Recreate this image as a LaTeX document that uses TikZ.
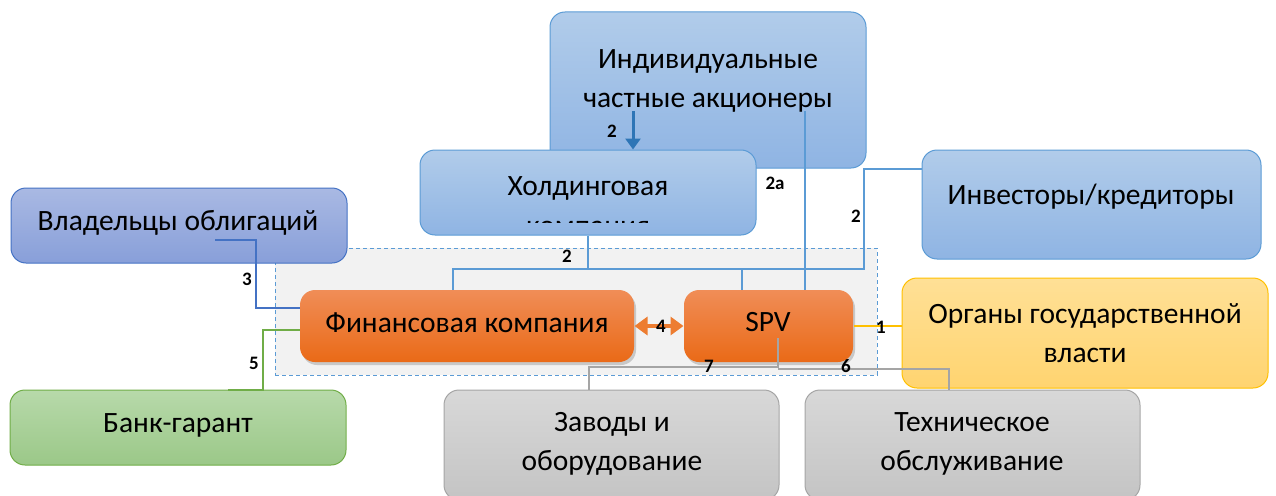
\documentclass[tikz,border=0pt]{standalone}
\usepackage{fontspec}
\setmainfont{Carlito}
\usetikzlibrary{arrows.meta,shadows}
\definecolor{bluetop}{HTML}{B1CCEA}
\definecolor{bluebot}{HTML}{8FB4E3}
\definecolor{bluebd}{HTML}{5B9BD5}
\definecolor{bondtop}{HTML}{A9B9E3}
\definecolor{bondbot}{HTML}{889FD9}
\definecolor{bondbd}{HTML}{4472C4}
\definecolor{greentop}{HTML}{B7D9AA}
\definecolor{greenbot}{HTML}{9BC888}
\definecolor{greenbd}{HTML}{70AD47}
\definecolor{yeltop}{HTML}{FFE096}
\definecolor{yelbot}{HTML}{FFD470}
\definecolor{yelbd}{HTML}{FFC000}
\definecolor{graytop}{HTML}{D8D8D8}
\definecolor{graybot}{HTML}{C4C4C4}
\definecolor{graybd}{HTML}{A5A5A5}
\definecolor{orangetop}{HTML}{F08D57}
\definecolor{orangebot}{HTML}{EA6A17}
\definecolor{orangeln}{HTML}{ED7D31}
\definecolor{areagray}{HTML}{F2F2F2}
\definecolor{darkblue}{HTML}{2E75B6}
\begin{document}
\begin{tikzpicture}[x=1pt,y=-1pt,
  box/.style={rounded corners=15pt, line width=1pt, inner sep=0pt},
  txt/.style={align=center, inner sep=0pt, font=\fontsize{29.5}{39.5}\selectfont},
  lbl/.style={font=\bfseries\fontsize{19}{19}\selectfont, inner sep=0pt},
  conn/.style={line width=2.8pt},
  orangebox/.style={box, draw=none, top color=orangetop, bottom color=orangebot,
    drop shadow={shadow xshift=2pt, shadow yshift=-3pt, opacity=0.25, fill=black!70}}]
\useasboundingbox (0,0) rectangle (1276,495);

% dashed area
\node[draw=bluebd, dash pattern=on 4pt off 3pt, fill=areagray, line width=1pt,
  minimum width=602pt, minimum height=127pt, inner sep=0pt] (area) at (576,311.5) {};

% boxes
\node[box, draw=bluebd, top color=bluetop, bottom color=bluebot,
  minimum width=316pt, minimum height=156pt] (ind) at (708,90) {};
\node[txt] (indt) at (708,81) {Индивидуальные\\частные акционеры};

\node[box, draw=bluebd, top color=bluetop, bottom color=bluebot,
  minimum width=336pt, minimum height=85pt] (hold) at (588,192.5) {};
\begin{scope}
  \clip (421,151) rectangle (755,222);
  \node[txt] (holdt) at (588,206) {Холдинговая\\компания};
\end{scope}

\node[box, draw=bondbd, top color=bondtop, bottom color=bondbot,
  minimum width=336pt, minimum height=75pt] (bond) at (179,225.5) {};
\node[txt] (bondt) at (178,223) {Владельцы облигаций};

\node[box, draw=bluebd, top color=bluetop, bottom color=bluebot,
  minimum width=339pt, minimum height=109pt] (inv) at (1091.5,204.5) {};
\node[txt] (invt) at (1091,197) {Инвесторы/кредиторы};

\node[box, draw=greenbd, top color=greentop, bottom color=greenbot,
  minimum width=336pt, minimum height=75pt] (bank) at (178,427.5) {};
\node[txt] (bankt) at (178,425) {Банк-гарант};

\node[box, draw=yelbd, top color=yeltop, bottom color=yelbot,
  minimum width=366pt, minimum height=110pt] (auth) at (1085,333) {};
\node[txt] (autht) at (1085,333) {Органы государственной\\власти};

\node[box, draw=graybd, top color=graytop, bottom color=graybot,
  minimum width=335pt, minimum height=110pt] (plant) at (611.5,445) {};
\node[txt] (plantt) at (612,444) {Заводы и\\оборудование};

\node[box, draw=graybd, top color=graytop, bottom color=graybot,
  minimum width=335pt, minimum height=110pt] (tech) at (972.5,445) {};
\node[txt] (techt) at (972,444) {Техническое\\обслуживание};

\node[orangebox, minimum width=334pt, minimum height=72pt] (fin) at (467,326) {};
\node[txt] (fint) at (467,323) {Финансовая компания};
\node[orangebox, minimum width=169pt, minimum height=72pt] (spv) at (768.5,326) {};
\node[txt] (spvt) at (768,322) {SPV};

% coordinates
\coordinate (a2s) at (633,111);
\coordinate (s2a) at (805,111);
\coordinate (busL) at (453,269);
\coordinate (busM) at (742,269);
\coordinate (busR) at (864,269);
\coordinate (invy) at (864,169);
\coordinate (b3) at (215,240);
\coordinate (b3c) at (256,240);
\coordinate (b3d) at (256,308);
\coordinate (g5a) at (263,330);
\coordinate (g5b) at (263,390);
\coordinate (g5c) at (228,390);
\coordinate (gs) at (778,338);
\coordinate (g7) at (589,367);
\coordinate (g6) at (949,369);

% connectors
\draw[line width=3pt, darkblue, -{Triangle[length=11pt,width=15pt]}] (a2s) -- (a2s |- hold.north);
\draw[conn, bluebd] (s2a) -- (s2a |- spv.north);
\draw[conn, bluebd] (hold.south) -- (hold.south |- busL);
\draw[conn, bluebd] (busL |- fin.north) -- (busL) -- (busR) -- (invy) -- (invy -| inv.west);
\draw[conn, bluebd] (busM) -- (busM |- spv.north);

\draw[conn, bondbd] (b3) -- (b3c) -- (b3d) -- (b3d -| fin.west);
\draw[conn, greenbd] (g5a -| fin.west) -- (g5a) -- (g5b) -- (g5c);

\draw[line width=3.2pt, orangeln, {Triangle[length=13pt,width=18pt]}-{Triangle[length=13pt,width=18pt]}]
  (fin.east) -- (spv.west);
\draw[conn, yelbd] (spv.east) -- (auth.west |- spv.east);

\draw[conn, graybd] (gs) -- (gs |- g7) -- (g7) -- (g7 |- plant.north);
\draw[conn, graybd] (gs |- g6) -- (g6) -- (g6 |- tech.north);

% labels
\node[lbl] (l2a) at (612,131) {2};
\node[lbl] (l2b) at (775,183) {2a};
\node[lbl] (l2c) at (856,216) {2};
\node[lbl] (l2d) at (567,256) {2};
\node[lbl] (l3) at (247,279) {3};
\node[lbl] (l5) at (254,363) {5};
\node[lbl] (l4) at (661,326) {4};
\node[lbl] (l1) at (881,327) {1};
\node[lbl] (l7) at (709,366) {7};
\node[lbl] (l6) at (846,366) {6};
\end{tikzpicture}
\end{document}
